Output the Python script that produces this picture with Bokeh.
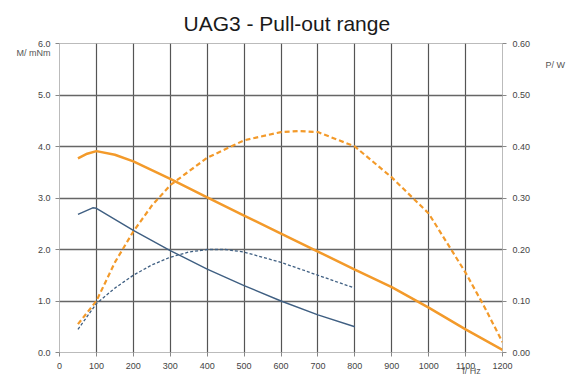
from bokeh.plotting import figure
from bokeh.models import Range1d, LinearAxis, FixedTicker, NumeralTickFormatter
from bokeh.embed import file_html
from bokeh.resources import INLINE

# Data
x_ticks = [0, 100, 200, 300, 400, 500, 600, 700, 800, 900, 1000, 1100, 1200]
m_ticks = [0, 1, 2, 3, 4, 5, 6]
p_ticks = [0.0, 0.1, 0.2, 0.3, 0.4, 0.5, 0.6]

f_m_orange = [50, 75, 100, 150, 200, 300, 400, 500, 600, 700, 800, 900, 1000, 1100, 1200]
m_orange = [3.77, 3.86, 3.91, 3.84, 3.71, 3.37, 3.01, 2.66, 2.31, 1.96, 1.61, 1.27, 0.87, 0.45, 0.05]

f_p_orange = [50, 100, 150, 200, 250, 300, 400, 500, 600, 650, 700, 800, 900, 1000, 1100, 1150, 1200]
p_orange = [0.055, 0.10, 0.175, 0.235, 0.285, 0.325, 0.378, 0.412, 0.428, 0.43, 0.428, 0.40, 0.34, 0.27, 0.155, 0.09, 0.02]

f_m_blue = [50, 90, 100, 200, 300, 400, 500, 600, 700, 800]
m_blue = [2.68, 2.81, 2.80, 2.37, 1.98, 1.62, 1.30, 1.00, 0.73, 0.50]

f_p_blue = [50, 100, 150, 200, 250, 300, 350, 400, 450, 500, 600, 700, 800]
p_blue = [0.045, 0.095, 0.125, 0.15, 0.17, 0.185, 0.195, 0.2, 0.2, 0.195, 0.175, 0.15, 0.125]

title_text = "UAG3 - Pull-out range"
m_label, m_label_pos = "M/ mNm", 5.82
p_label, p_label_pos = "P/ W", 5.59
f_label, f_label_pos = "f/ Hz", 1116

FONT = "Liberation Sans"
ORANGE = "#F39A2A"
BLUE = "#3F5F82"

p = figure(output_backend="svg", toolbar_location=None,
           frame_width=443, frame_height=309,
           min_border_left=59, min_border_right=69, min_border_top=43, min_border_bottom=26,
           x_range=Range1d(0, 1200), y_range=Range1d(0, 6),
           title=title_text)
p.title.align = "left"
p.title.offset = 124
p.title.standoff = 18
p.title.text_font = FONT
p.title.text_font_size = "21px"
p.title.text_font_style = "normal"
p.title.text_color = "#1a1a1a"
p.outline_line_color = "#bbbbbb"
p.background_fill_color = "white"
p.border_fill_color = "white"

p.extra_y_ranges = {"p": Range1d(0, 0.6)}
right = LinearAxis(y_range_name="p")
p.add_layout(right, "right")

for ax in [p.xaxis[0], p.yaxis[0], right]:
    ax.major_label_text_font = FONT
    ax.major_label_text_font_size = "9px"
    ax.major_label_text_color = "#444444"
    ax.axis_line_color = None
    ax.major_tick_line_color = "#888888"
    ax.major_tick_out = 4
    ax.major_tick_in = 0
    ax.minor_tick_line_color = None

p.xaxis[0].ticker = FixedTicker(ticks=x_ticks)
p.yaxis[0].ticker = FixedTicker(ticks=m_ticks)
p.yaxis[0].formatter = NumeralTickFormatter(format="0.0")
right.ticker = FixedTicker(ticks=p_ticks)
right.formatter = NumeralTickFormatter(format="0.00")
p.yaxis[0].major_label_standoff = 5
right.major_label_standoff = 6
p.xaxis[0].major_label_standoff = 6

# Unit labels as extra, tick-less axes
def unit_axis(tick, text, standoff):
    ax = LinearAxis(ticker=FixedTicker(ticks=[tick]), major_label_overrides={tick: text},
                    axis_line_color=None, major_tick_line_color=None, minor_tick_line_color=None,
                    major_tick_out=0, major_tick_in=0, major_label_standoff=standoff,
                    major_label_text_font=FONT, major_label_text_font_size="9px",
                    major_label_text_color="#555555")
    return ax

p.add_layout(unit_axis(m_label_pos, m_label, -16), "left")
p.add_layout(unit_axis(p_label_pos, p_label, 12), "right")
p.add_layout(unit_axis(f_label_pos, f_label, -6), "below")

p.xgrid.ticker = FixedTicker(ticks=x_ticks)
p.ygrid.ticker = FixedTicker(ticks=m_ticks)
p.xgrid.grid_line_color = "#555555"
p.xgrid.grid_line_width = 1.2
p.ygrid.grid_line_color = "#666666"
p.ygrid.grid_line_width = 1.5

p.line(f_p_orange, p_orange, y_range_name="p", line_color=ORANGE, line_width=2.2, line_dash="5 3")
p.line(f_p_blue, p_blue, y_range_name="p", line_color=BLUE, line_width=1.3, line_dash="3 2")
p.line(f_m_orange, m_orange, line_color=ORANGE, line_width=2.5)
p.line(f_m_blue, m_blue, line_color=BLUE, line_width=1.4)

open("out.html", "w").write(file_html(p, INLINE))
